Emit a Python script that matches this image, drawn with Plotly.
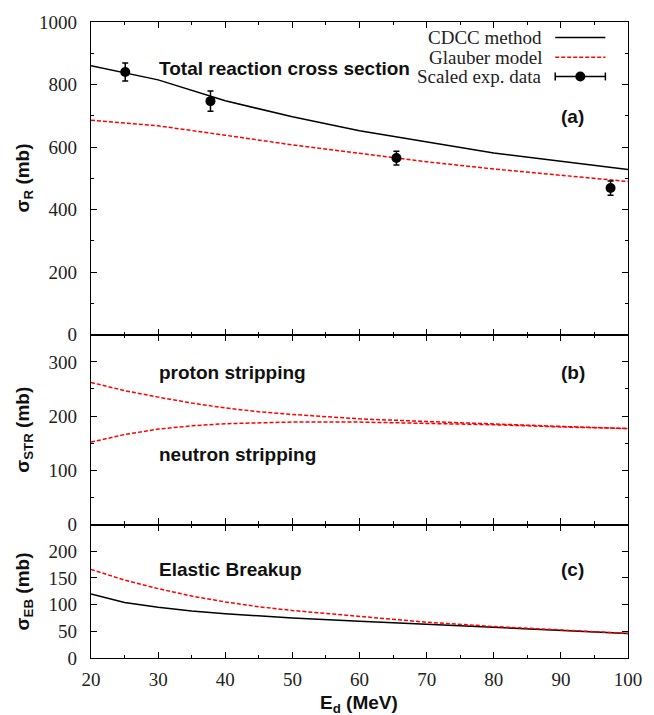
import plotly.graph_objects as go

# ---------------- data ----------------
E_a = [20, 30, 40, 50, 60, 70, 80, 90, 100]
cdcc_R = [860, 815, 748, 697, 652, 617, 581, 555, 528]
glauber_R = [686, 668, 638, 607, 580, 553, 530, 510, 490]

exp_E = [25.1, 37.8, 65.5, 97.4]
exp_R = [840, 747, 565, 469]
exp_err = [29, 32, 22, 23]

E_b = [20, 25, 30, 35, 40, 45, 50, 60, 70, 80, 90, 100]
proton_str = [262, 247, 235, 224, 215, 208, 203, 195, 190, 185, 181, 177]
neutron_str = [152, 166, 176, 182, 186, 188, 189, 189, 187, 184, 180, 177]

E_c = [20, 25, 30, 35, 40, 45, 50, 60, 70, 80, 90, 100]
glauber_EB = [166, 146, 130, 116, 105, 96, 89, 78, 67, 59, 52, 46]
cdcc_EB = [120, 104, 95, 88, 83, 79, 75, 69, 63, 58, 52, 46]

x_ticks = [20, 30, 40, 50, 60, 70, 80, 90, 100]
y_ticks_a = [0, 200, 400, 600, 800, 1000]
y_ticks_b = [0, 100, 200, 300]
y_ticks_c = [0, 50, 100, 150, 200]

# ---------------- styling ----------------
W, H = 654, 715
ML, MR, MT, MB = 91, 17, 16, 57
plot_w = W - ML - MR
plot_h = H - MT - MB

RED = "#ff0000"
DASH = "4px,2px"
SERIF = "Liberation Serif"
SANS = "Liberation Sans"

def py(pix_y):
    """pixel y (from top) -> paper y"""
    return (H - MB - pix_y) / plot_h

def px(pix_x):
    return (pix_x - ML) / plot_w

dom_c = [0.0, py(523.3)]
dom_b = [py(523.3), py(331.7)]
dom_a = [py(331.7), 1.0]

fig = go.Figure()

# panel (a)
fig.add_trace(go.Scatter(x=E_a, y=cdcc_R, mode="lines", line=dict(color="black", width=1.5),
                         xaxis="x", yaxis="y", showlegend=False))
fig.add_trace(go.Scatter(x=E_a, y=glauber_R, mode="lines", line=dict(color=RED, width=1.5, dash=DASH),
                         xaxis="x", yaxis="y", showlegend=False))
fig.add_trace(go.Scatter(x=exp_E, y=exp_R, mode="markers",
                         marker=dict(color="black", size=10),
                         error_y=dict(type="data", array=exp_err, color="black", thickness=1.5, width=3),
                         xaxis="x", yaxis="y", showlegend=False))
# panel (b)
fig.add_trace(go.Scatter(x=E_b, y=proton_str, mode="lines", line=dict(color=RED, width=1.5, dash=DASH),
                         xaxis="x2", yaxis="y2", showlegend=False))
fig.add_trace(go.Scatter(x=E_b, y=neutron_str, mode="lines", line=dict(color=RED, width=1.5, dash=DASH),
                         xaxis="x2", yaxis="y2", showlegend=False))
# panel (c)
fig.add_trace(go.Scatter(x=E_c, y=cdcc_EB, mode="lines", line=dict(color="black", width=1.5),
                         xaxis="x3", yaxis="y3", showlegend=False))
fig.add_trace(go.Scatter(x=E_c, y=glauber_EB, mode="lines", line=dict(color=RED, width=1.5, dash=DASH),
                         xaxis="x3", yaxis="y3", showlegend=False))

xtickfont = dict(family="Liberation Serif, serif", size=19, color="#222222")
ytickfont = dict(family="Times New Roman, Liberation Serif, serif", size=19, color="#222222")

def xaxis(anchor, show_labels):
    return dict(anchor=anchor, domain=[0, 1], range=[20, 100], tickmode="array", tickvals=x_ticks,
                showticklabels=show_labels, tickfont=xtickfont, ticklabelstandoff=4,
                ticks="inside", ticklen=6, tickwidth=1.2, tickcolor="black",
                minor=dict(ticks="inside", ticklen=3, tickwidth=1.2, dtick=5, tickcolor="black"),
                showline=True, linecolor="black", linewidth=1.2, mirror="allticks",
                showgrid=False, zeroline=False)

def yaxis(anchor, dom, rng, tvals, minor_dtick):
    d = dict(anchor=anchor, domain=dom, range=rng, tickmode="array", tickvals=tvals,
             tickfont=ytickfont, ticklabelstandoff=9,
             ticks="inside", ticklen=6, tickwidth=1.2, tickcolor="black",
             showline=True, linecolor="black", linewidth=1.2, mirror="allticks",
             showgrid=False, zeroline=False)
    if minor_dtick:
        d["minor"] = dict(ticks="inside", ticklen=3, tickwidth=1.2, dtick=minor_dtick,
                          tick0=0, tickcolor="black")
    return d

fig.update_layout(
    width=W, height=H,
    margin=dict(l=ML, r=MR, t=MT, b=MB),
    paper_bgcolor="white", plot_bgcolor="white",
    font=dict(family=SERIF, size=19, color="black"),
    showlegend=False,
    xaxis=xaxis("y", False),
    xaxis2=xaxis("y2", False),
    xaxis3=xaxis("y3", True),
    yaxis=yaxis("x", dom_a, [0, 1000], y_ticks_a, 100),
    yaxis2=yaxis("x2", dom_b, [0, 350], y_ticks_b, 50),
    yaxis3=yaxis("x3", dom_c, [0, 250], y_ticks_c, None),
)
fig.update_layout(xaxis2=dict(matches="x3"), xaxis=dict(matches="x3"))

ann_font = dict(family=SANS, size=19, color="#111111")
annotations = [
    dict(text="<b>Total reaction cross section</b>", x=29.8, y=852, xref="x", yref="y",
         xanchor="left", yanchor="middle", showarrow=False, font=ann_font),
    dict(text="<b>(a)</b>", x=91.8, y=697, xref="x", yref="y",
         xanchor="center", yanchor="middle", showarrow=False, font=ann_font),
    dict(text="<b>proton stripping</b>", x=29.8, y=280, xref="x2", yref="y2",
         xanchor="left", yanchor="middle", showarrow=False, font=ann_font),
    dict(text="<b>neutron stripping</b>", x=29.8, y=129, xref="x2", yref="y2",
         xanchor="left", yanchor="middle", showarrow=False, font=ann_font),
    dict(text="<b>(b)</b>", x=91.8, y=280, xref="x2", yref="y2",
         xanchor="center", yanchor="middle", showarrow=False, font=ann_font),
    dict(text="<b>Elastic Breakup</b>", x=29.8, y=166, xref="x3", yref="y3",
         xanchor="left", yanchor="middle", showarrow=False, font=ann_font),
    dict(text="<b>(c)</b>", x=91.8, y=166, xref="x3", yref="y3",
         xanchor="center", yanchor="middle", showarrow=False, font=ann_font),
    # axis titles
    dict(text="<b>σ<sub>R</sub> (mb)</b>", x=px(23), y=(dom_a[0] + dom_a[1]) / 2,
         xref="paper", yref="paper", textangle=-90, xanchor="center", yanchor="middle",
         showarrow=False, font=ann_font),
    dict(text="<b>σ<sub>STR</sub> (mb)</b>", x=px(23), y=(dom_b[0] + dom_b[1]) / 2,
         xref="paper", yref="paper", textangle=-90, xanchor="center", yanchor="middle",
         showarrow=False, font=ann_font),
    dict(text="<b>σ<sub>EB</sub> (mb)</b>", x=px(23), y=(dom_c[0] + dom_c[1]) / 2,
         xref="paper", yref="paper", textangle=-90, xanchor="center", yanchor="middle",
         showarrow=False, font=ann_font),
    dict(text="<b>E<sub>d</sub> (MeV)</b>", x=px(363), y=py(704),
         xref="paper", yref="paper", xanchor="center", yanchor="middle",
         showarrow=False, font=ann_font),
]

# legend (gnuplot style: text right-aligned, sample to the right)
leg_font = dict(family=SERIF, size=19, color="#222222")
leg_rows = [("CDCC method", 31.7), ("Glauber model", 51.7), ("Scaled exp. data", 71.0)]
for txt, yy in leg_rows:
    annotations.append(dict(text=txt, x=px(552), y=py(yy), xref="paper", yref="paper",
                            xanchor="right", yanchor="middle", showarrow=False, font=leg_font))

lx0, lx1 = px(563), px(614)
shapes = [
    dict(type="line", xref="paper", yref="paper", x0=lx0, x1=lx1, y0=py(31.7), y1=py(31.7),
         line=dict(color="black", width=1.5)),
    dict(type="line", xref="paper", yref="paper", x0=lx0, x1=lx1, y0=py(51.7), y1=py(51.7),
         line=dict(color=RED, width=1.5, dash=DASH)),
    dict(type="line", xref="paper", yref="paper", x0=lx0, x1=lx1, y0=py(71), y1=py(71),
         line=dict(color="black", width=1.5)),
    dict(type="line", xref="paper", yref="paper", x0=lx0, x1=lx0, y0=py(67), y1=py(75),
         line=dict(color="black", width=1.5)),
    dict(type="line", xref="paper", yref="paper", x0=lx1, x1=lx1, y0=py(67), y1=py(75),
         line=dict(color="black", width=1.5)),
    dict(type="circle", xref="paper", yref="paper", xsizemode="pixel", ysizemode="pixel",
         xanchor=px(588.5), yanchor=py(71), x0=-5, x1=5, y0=-5, y1=5,
         fillcolor="black", line=dict(color="black", width=0)),
]

fig.update_layout(annotations=annotations, shapes=shapes)

fig.write_html("out.html")
